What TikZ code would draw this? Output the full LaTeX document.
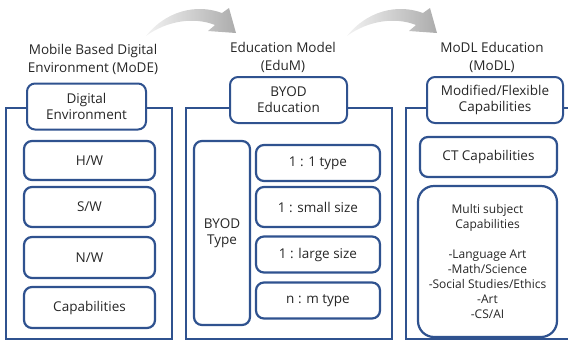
\documentclass[tikz,border=0pt]{standalone}
\usepackage{fontspec}
\setmainfont{Open Sans}
\usepackage{tikz}
\definecolor{boxblue}{RGB}{47,82,143}
\definecolor{txtgray}{RGB}{38,38,38}

\begin{document}
\begin{tikzpicture}[x=1pt, y=-1pt,
  every node/.style={outer sep=0pt, text=txtgray, align=center, font=\fontsize{13.5}{16}\selectfont},
  panel/.style={draw=boxblue, line width=2pt, minimum height=231pt},
  hdr/.style={draw=boxblue, fill=white, line width=2pt, rounded corners=8pt, minimum height=46pt},
  item/.style={draw=boxblue, fill=white, line width=2.2pt, rounded corners=8pt},
  title/.style={font=\fontsize{13.5}{18}\selectfont}]
\useasboundingbox (0,0) rectangle (568,341);
\clip (0,0) rectangle (568,341);

% curved arrows between the titles
\shade[left color=gray!10, right color=gray!65] (146,36) .. controls (165,12) and (195,3) .. (222,13)
  -- (229,8) -- (236,33) -- (208,31) -- (215,25) .. controls (195,17) and (168,20) .. (146,36) -- cycle;
\begin{scope}[xshift=201]
\shade[left color=gray!10, right color=gray!65] (146,36) .. controls (165,12) and (195,3) .. (222,13)
  -- (229,8) -- (236,33) -- (208,31) -- (215,25) .. controls (195,17) and (168,20) .. (146,36) -- cycle;
\end{scope}

% titles
\node[title] (modeTitle) at (93,59) {Mobile Based Digital\\Environment (MoDE)};
\node[title] (edumTitle) at (283,57) {Education Model\\(EduM)};
\node[title] (modlTitle) at (492,57) {MoDL Education\\(MoDL)};

% panels
\node[panel, minimum width=166pt] (mode) at (89,223.5) {};
\node[panel, minimum width=206pt] (edum) at (289,223.5) {};
\node[panel, minimum width=174pt] (modl) at (493,223.5) {};

% headers
\node[hdr, minimum width=119pt] (modeHead) at (86.5,106.5) {Digital\\Environment};
\node[hdr, minimum width=117pt] (edumHead) at (288.5,100) {BYOD\\Education};
\node[hdr, minimum width=136pt] (modlHead) at (495,100) {Modified/Flexible\\Capabilities};

% MoDE
\node[item, minimum width=131pt, minimum height=39pt] (hw) at (89.5,160.5) {H/W};
\node[item, minimum width=131pt, minimum height=40pt] (sw) at (89.5,207) {S/W};
\node[item, minimum width=131pt, minimum height=41pt] (nw) at (89.5,257.5) {N/W};
\node[item, minimum width=131pt, minimum height=41pt] (cap) at (89.5,307.5) {Capabilities};

% EduM
\node[item, minimum width=56pt, minimum height=184pt] (byodType) at (222,233) {BYOD\\Type};
\node[item, minimum width=124pt, minimum height=36pt] (oneOne) at (318,163) {1 : 1 type};
\node[item, minimum width=124pt, minimum height=40pt] (oneSmall) at (318,207) {1 : small size};
\node[item, minimum width=124pt, minimum height=36pt] (oneLarge) at (318,254.5) {1 : large size};
\node[item, minimum width=124pt, minimum height=36pt] (nm) at (318,300.5) {n : m type};

% MoDL
\node[item, rounded corners=8pt, minimum width=137pt, minimum height=40pt] (ct) at (488.5,157) {CT Capabilities};
\node[item, rounded corners=16pt, minimum width=139pt, minimum height=151pt,
  font=\fontsize{12}{15}\selectfont] (multi) at (487.5,261.5)
  {Multi subject\\Capabilities\\[15pt]-Language Art\\-Math/Science\\-Social Studies/Ethics\\-Art\\-CS/AI};
\end{tikzpicture}
\end{document}
